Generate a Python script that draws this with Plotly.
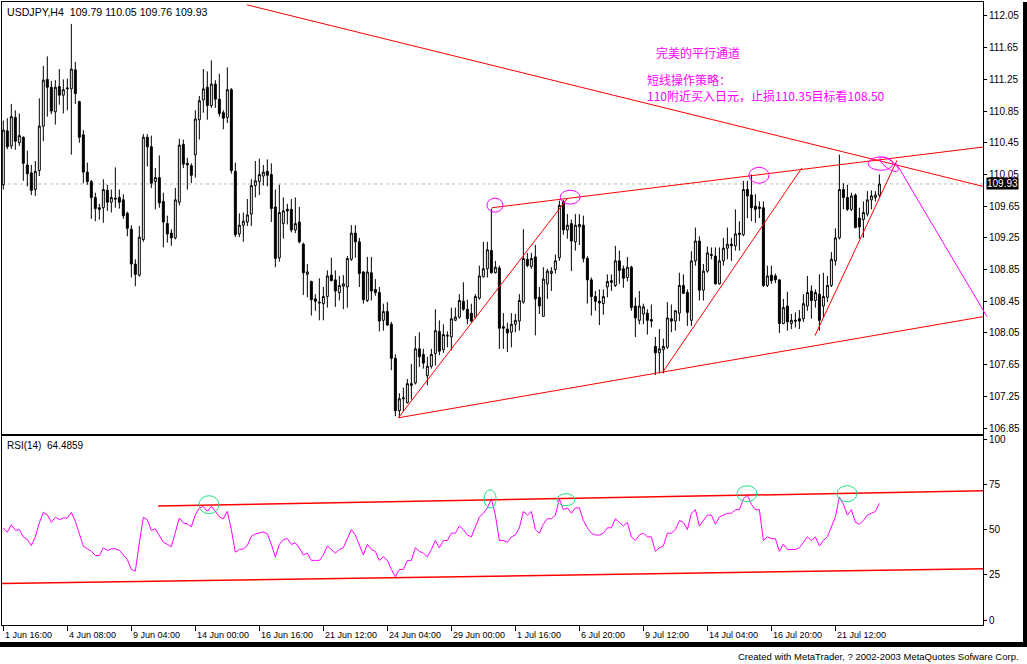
import numpy as np
import plotly.graph_objects as go

W, H = 1027, 664

# ---------------- data ----------------
opens = [109.92,110.60,110.41,110.77,110.45,110.52,110.17,110.07,109.86,110.10,
         110.66,111.25,111.15,110.84,111.16,111.05,111.13,111.13,111.37,110.97,
         110.55,110.08,109.96,109.76,109.63,109.63,109.85,109.70,109.75,109.76,
         109.73,109.56,109.36,108.92,108.78,109.23,110.52,110.40,109.96,110.01,
         109.71,109.43,109.31,109.25,109.70,110.43,110.19,110.16,110.30,110.74,
         110.99,111.15,110.92,111.19,111.00,110.83,110.77,111.12,110.09,109.30,
         109.41,109.45,109.55,109.91,109.96,110.03,110.09,110.05,109.64,109.00,
         109.43,109.61,109.61,109.35,109.45,109.17,108.79,108.70,108.48,108.44,
         108.42,108.51,108.78,108.72,108.56,108.64,108.63,108.98,109.31,109.20,
         108.82,108.46,108.81,108.60,108.56,108.21,108.32,108.16,107.73,107.07,
         107.22,107.17,107.41,107.42,107.85,107.78,107.51,107.63,107.79,108.07,
         107.84,108.01,108.00,108.21,108.25,108.45,108.35,108.30,108.25,108.49,
         108.76,108.86,109.09,108.81,108.87,108.13,108.10,108.06,108.16,108.20,
         108.44,108.98,108.89,109.01,108.50,108.26,108.67,108.80,108.85,109.00,
         109.71,109.35,109.43,109.20,109.39,109.41,108.99,108.72,108.51,108.45,
         108.42,108.63,108.71,108.65,108.96,108.86,108.75,108.88,108.39,108.21,
         108.29,108.30,108.22,107.88,107.80,107.84,107.87,108.23,108.20,108.30,
         108.65,108.56,108.21,108.96,109.21,108.59,108.83,109.04,109.02,108.67,
         108.96,109.12,109.17,109.15,109.29,109.29,109.86,109.79,109.65,109.64,
         109.63,108.65,108.78,108.77,108.72,108.17,108.39,108.17,108.21,108.23,
         108.23,108.39,108.58,108.46,108.54,108.39,108.50,108.65,108.96,109.25,
         109.86,109.76,109.61,109.79,109.50,109.48,109.55,109.73,109.76,109.79]
highs = [110.73,110.76,110.94,110.86,110.82,110.53,110.35,110.17,110.22,111.01,
         111.42,111.54,111.23,111.24,111.38,111.25,111.26,111.95,111.47,110.98,
         110.61,110.20,109.98,109.82,109.68,109.99,109.92,109.86,110.14,109.86,
         109.80,109.58,109.41,108.98,109.40,110.56,110.56,110.54,110.13,110.29,
         109.82,109.53,109.36,109.88,110.50,110.49,110.26,110.19,110.86,111.04,
         111.38,111.35,111.49,111.24,111.32,110.86,111.40,111.14,110.20,109.56,
         109.57,109.74,109.99,110.22,110.25,110.17,110.24,110.19,109.86,109.92,
         109.76,109.68,109.74,109.76,109.64,109.19,108.92,108.71,108.54,108.74,
         108.63,108.84,109.00,108.84,108.77,108.78,109.02,109.41,109.41,109.25,
         108.83,109.01,109.01,108.73,108.63,108.42,108.44,108.19,107.78,107.29,
         107.36,107.47,107.66,108.01,108.06,107.85,107.75,107.85,108.35,108.21,
         108.16,108.07,108.37,108.37,108.54,108.69,108.47,108.42,108.54,108.90,
         109.20,109.20,109.62,108.96,108.90,108.30,108.18,108.30,108.29,108.54,
         109.36,109.06,109.06,109.16,108.63,108.88,108.86,108.88,109.04,109.72,
         109.73,109.55,109.48,109.55,109.55,109.53,109.02,108.75,108.58,108.60,
         108.60,108.79,108.79,109.15,109.09,108.90,109.01,108.90,108.50,108.58,
         108.42,108.35,108.41,108.00,108.10,107.98,108.44,108.41,108.34,108.81,
         108.79,108.60,109.08,109.38,109.27,108.92,109.14,109.13,109.13,109.13,
         109.25,109.38,109.25,109.61,109.46,109.97,109.97,110.05,109.80,109.71,
         109.71,108.90,108.90,108.80,108.73,108.48,108.57,108.29,108.31,108.34,
         108.54,108.77,108.65,108.60,108.79,108.81,108.77,109.07,109.37,110.30,
         109.94,109.92,109.82,109.81,109.63,109.71,109.84,109.85,109.84,110.05]
lows = [109.86,110.37,110.37,110.36,110.41,109.97,109.90,109.79,109.78,110.03,
        110.47,110.78,110.81,110.68,110.93,110.82,110.86,110.30,110.94,110.45,
        109.94,109.92,109.49,109.46,109.48,109.44,109.59,109.57,109.63,109.62,
        109.49,109.27,108.75,108.64,108.76,109.20,110.15,109.88,109.61,109.63,
        109.13,109.19,109.15,109.23,109.66,110.13,109.86,109.94,110.01,110.49,
        110.83,110.74,110.89,110.89,110.78,110.62,110.70,110.06,109.26,109.26,
        109.20,109.40,109.40,109.76,109.79,109.91,109.90,109.45,108.88,108.95,
        109.24,109.42,109.32,109.31,109.18,108.53,108.50,108.27,108.33,108.21,
        108.21,108.37,108.70,108.38,108.46,108.35,108.37,108.96,109.00,108.63,
        108.42,108.44,108.46,108.52,108.07,108.08,108.14,107.58,107.00,106.99,
        107.06,107.16,107.21,107.40,107.62,107.60,107.39,107.60,107.64,107.77,
        107.80,107.87,107.83,108.20,108.23,108.33,108.16,108.18,108.23,108.47,
        108.75,108.75,108.80,108.80,107.85,107.85,107.81,107.87,108.06,108.08,
        108.42,108.88,108.86,108.02,108.29,108.26,108.48,108.58,108.80,108.96,
        109.29,109.24,108.83,109.09,109.16,108.94,108.42,108.27,108.33,108.15,
        108.28,108.50,108.58,108.63,108.67,108.62,108.70,108.33,108.00,108.16,
        108.16,108.03,108.12,107.52,107.54,107.54,107.85,108.06,108.08,108.20,
        108.54,108.14,108.14,108.90,108.46,108.46,108.81,108.98,108.66,108.66,
        108.90,108.98,108.96,109.09,109.09,109.27,109.50,109.46,109.44,109.50,
        108.63,108.63,108.67,108.68,108.05,108.16,108.08,108.10,108.12,108.10,
        108.19,108.33,108.23,108.37,108.08,108.25,108.44,108.63,108.90,109.23,
        109.61,109.59,109.59,109.37,109.24,109.25,109.52,109.61,109.71,109.76]
closes = [110.61,110.40,110.78,110.47,110.54,110.19,110.06,109.85,110.09,110.66,
          111.24,111.15,110.85,111.15,111.05,111.12,111.14,111.38,111.07,110.52,
          110.08,109.96,109.76,109.62,109.61,109.86,109.70,109.76,109.74,109.70,
          109.53,109.37,108.92,108.79,109.26,110.52,110.40,109.94,110.01,109.69,
          109.45,109.30,109.25,109.73,110.42,110.18,110.17,110.04,110.75,110.98,
          111.13,110.92,111.19,111.00,110.82,110.76,111.12,110.10,109.29,109.41,
          109.46,109.54,109.91,109.97,110.05,110.08,110.04,109.62,108.99,109.57,
          109.59,109.59,109.35,109.43,109.20,108.81,108.82,108.47,108.45,108.43,
          108.51,108.77,108.71,108.58,108.65,108.67,108.99,109.31,109.20,108.80,
          108.47,108.82,108.58,108.56,108.20,108.32,108.15,107.73,107.07,107.22,
          107.23,107.41,107.39,107.85,107.75,107.67,107.63,107.78,108.08,107.82,
          108.03,108.02,108.23,108.25,108.46,108.35,108.23,108.20,108.51,108.77,
          108.86,109.10,108.81,108.88,108.11,108.11,108.05,108.16,108.21,108.46,
          108.99,108.90,108.99,108.48,108.39,108.73,108.83,108.83,108.96,109.66,
          109.35,109.41,109.21,109.41,109.42,108.99,108.72,108.51,108.45,108.43,
          108.51,108.70,108.69,108.96,108.84,108.74,108.88,108.37,108.24,108.39,
          108.38,108.21,108.20,107.80,107.85,107.88,108.24,108.20,108.33,108.65,
          108.55,108.31,108.96,109.21,108.59,108.83,109.06,109.03,108.67,108.96,
          109.12,109.17,109.15,109.30,109.31,109.86,109.78,109.63,109.61,109.62,
          108.65,108.77,108.71,108.72,108.17,108.37,108.19,108.21,108.20,108.20,
          108.42,108.56,108.46,108.56,108.21,108.51,108.65,108.98,109.25,109.86,
          109.76,109.61,109.78,109.38,109.39,109.57,109.73,109.78,109.79,109.93]
rsi = [50.9,48.5,52.7,49.6,50.0,46.0,44.5,41.2,46.0,53.7,
       59.5,58.2,54.0,56.8,55.5,56.4,56.4,59.5,54.6,48.2,
       40.8,39.4,38.1,35.7,35.7,39.9,38.5,39.4,39.4,38.6,
       36.3,33.5,28.0,27.1,42.7,56.8,55.5,49.5,50.4,46.3,
       43.0,41.8,40.5,48.5,56.4,53.7,53.1,51.5,58.2,61.9,
       62.8,60.1,62.8,60.1,57.0,55.9,60.1,50.0,37.5,39.0,
       39.4,41.2,46.3,47.6,48.2,48.7,47.6,41.8,34.8,41.8,
       44.5,45.0,41.8,42.7,39.9,36.0,37.0,33.0,33.0,33.0,
       36.0,41.0,39.0,37.0,39.0,40.0,45.0,50.0,47.0,41.0,
       36.0,42.0,39.0,38.0,33.0,35.0,33.0,28.0,24.0,28.0,
       28.0,33.0,33.0,40.0,38.0,37.0,35.0,39.0,44.0,40.0,
       44.0,44.0,48.0,48.0,52.0,50.0,47.0,46.0,52.0,57.0,
       59.0,62.0,67.0,58.0,44.0,44.0,43.0,46.0,47.0,51.0,
       60.0,58.0,60.0,50.0,48.0,53.0,56.0,56.0,58.0,67.0,
       61.0,62.0,59.0,62.0,62.0,55.0,51.0,48.0,47.0,47.0,
       48.0,51.0,51.0,56.0,54.0,52.0,54.0,46.0,44.0,47.0,
       48.0,46.0,46.0,38.0,40.0,41.0,48.0,48.0,50.0,55.0,
       54.0,50.0,59.0,61.0,52.0,55.0,58.0,58.0,53.0,57.0,
       58.0,59.0,59.0,61.0,61.0,67.0,69.0,64.0,61.0,61.0,
       44.0,46.0,45.0,45.0,38.0,42.0,39.0,39.0,39.0,40.0,
       43.0,46.0,44.0,46.0,41.0,44.0,46.0,52.0,57.0,68.0,
       64.0,58.0,61.0,54.0,53.0,55.0,58.0,59.0,60.0,64.49]
bars = list(range(len(closes)))

price_ticks = [112.05, 111.65, 111.25, 110.85, 110.45, 110.05, 109.65,
               109.25, 108.85, 108.45, 108.05, 107.65, 107.25, 106.85]
rsi_ticks = [0, 25, 50, 75, 100]
date_labels = ["1 Jun 16:00", "4 Jun 08:00", "9 Jun 04:00", "14 Jun 00:00",
               "16 Jun 16:00", "21 Jun 12:00", "24 Jun 04:00", "29 Jun 00:00",
               "1 Jul 16:00", "6 Jul 20:00", "9 Jul 12:00", "14 Jul 04:00",
               "16 Jul 20:00", "21 Jul 12:00"]
date_bars = [0, 16, 32, 48, 64, 80, 96, 112, 128, 144, 160, 176, 192, 208]

last_price = 109.93
header = "USDJPY,H4  109.79 110.05 109.76 109.93"
rsi_label = "RSI(14)  64.4859"

# trend lines drawn on the chart: (bar0, price0, bar1, price1)
red_price_lines = [
    (60.9, 112.19, 244.9, 109.90),    # long falling line
    (122.1, 109.63, 244.9, 110.396),  # channel top
    (98.75, 106.98, 244.9, 108.256),  # channel bottom
    (98.75, 106.98, 140.9, 109.74),
    (164.85, 107.556, 199.6, 110.132),
    (202.9, 108.017, 223.4, 110.228),
]
target_line = (223.2, 110.19, 245.9, 108.256)
magenta_ellipses = [  # bar0, bar1, price_low, price_high
    (120.9, 124.9, 109.575, 109.751),
    (139.2, 144.2, 109.676, 109.851),
    (186.4, 191.4, 109.94, 110.14),
    (216.2, 222.4, 110.103, 110.271),
]
red_rsi_lines = [
    (38.7, 63.0, 244.9, 71.4),
    (-0.4, 20.2, 244.9, 28.4),
]
green_ellipses = [  # bar0, bar1, rsi_low, rsi_high
    (48.9, 53.9, 58.8, 68.7),
    (120.2, 123.2, 62.0, 72.0),
    (138.4, 142.9, 63.2, 69.8),
    (183.4, 188.4, 65.4, 74.2),
    (208.4, 213.4, 65.4, 74.2),
]

# ---------------- geometry helpers ----------------
def fx(px):
    return px / W

def fy(py):
    return 1 - py / H

XR = [-0.33, 244.9]
PR = [106.775, 112.226]
RR = [-2.75, 101.65]
PLOT_L, PLOT_R = 2, 983

def bar_to_paper(b):
    return fx(PLOT_L + (b - XR[0]) / (XR[1] - XR[0]) * (PLOT_R - PLOT_L))

def price_to_paper(p):
    return fy(434) + (p - PR[0]) / (PR[1] - PR[0]) * (1 - fy(434))

fig = go.Figure()
fig.add_trace(go.Candlestick(
    x=bars, open=opens, high=highs, low=lows, close=closes,
    xaxis="x", yaxis="y",
    increasing=dict(line=dict(color="black", width=1), fillcolor="white"),
    decreasing=dict(line=dict(color="black", width=1), fillcolor="black"),
    whiskerwidth=0, showlegend=False, hoverinfo="skip"))
fig.add_trace(go.Scatter(
    x=bars, y=rsi, mode="lines", xaxis="x2", yaxis="y2",
    line=dict(color="#FF00FF", width=1), showlegend=False, hoverinfo="skip"))

shapes = []
shapes.append(dict(type="line", xref="x", yref="y", x0=XR[0], x1=XR[1],
                   y0=last_price, y1=last_price, layer="below",
                   line=dict(color="#B8B8B8", width=1, dash="dot")))
for (a, b, c, d) in red_price_lines:
    shapes.append(dict(type="line", xref="x", yref="y", x0=a, y0=b, x1=c, y1=d,
                       line=dict(color="#FF0000", width=1)))
# target line pokes a little past the price axis, so place it in paper units
a, b, c, d = target_line
shapes.append(dict(type="line", xref="paper", yref="paper",
                   x0=bar_to_paper(a), y0=price_to_paper(b),
                   x1=bar_to_paper(c), y1=price_to_paper(d),
                   line=dict(color="#FF00FF", width=1)))
for (a, b, c, d) in magenta_ellipses:
    shapes.append(dict(type="circle", xref="x", yref="y", x0=a, x1=b, y0=c, y1=d,
                       line=dict(color="#FF00FF", width=1)))
# small tilted ellipse at the apex
t = np.linspace(0, 2 * np.pi, 41)
th = np.deg2rad(36)
cxp, cyp, ea, eb = 889.0, 163.0, 11.0, 4.0
pxs = cxp + ea * np.cos(t) * np.cos(th) - eb * np.sin(t) * np.sin(th)
pys = cyp + ea * np.cos(t) * np.sin(th) + eb * np.sin(t) * np.cos(th)
bx = (pxs - 3.3) / 4.0
by = 112.05 - (pys - 14) / 79.6
path = "M " + " L ".join(f"{u:.3f},{v:.4f}" for u, v in zip(bx, by)) + " Z"
shapes.append(dict(type="path", xref="x", yref="y", path=path,
                   line=dict(color="#FF00FF", width=1)))

for (a, b, c, d) in red_rsi_lines:
    shapes.append(dict(type="line", xref="x2", yref="y2", x0=a, y0=b, x1=c, y1=d,
                       line=dict(color="#FF0000", width=1.5)))
for (a, b, c, d) in green_ellipses:
    shapes.append(dict(type="circle", xref="x2", yref="y2", x0=a, x1=b, y0=c, y1=d,
                       line=dict(color="#20E080", width=1)))

# window frame: black band right and bottom
shapes.append(dict(type="rect", xref="paper", yref="paper", x0=fx(1023), x1=1,
                   y0=fy(648), y1=1, fillcolor="black", line=dict(width=0)))
shapes.append(dict(type="rect", xref="paper", yref="paper", x0=0, x1=1,
                   y0=fy(648), y1=fy(643), fillcolor="black", line=dict(width=0)))

ann = []
ann.append(dict(text=header, xref="paper", yref="paper", x=fx(5), y=fy(10),
                xanchor="left", yanchor="middle", showarrow=False,
                font=dict(family="Liberation Sans", size=10.6, color="black")))
ann.append(dict(text=rsi_label, xref="paper", yref="paper", x=fx(5), y=fy(446),
                xanchor="left", yanchor="middle", showarrow=False,
                font=dict(family="Liberation Sans", size=10, color="black")))
cjk = dict(family="Noto Sans CJK SC", size=12, color="#FF00FF")
ann.append(dict(text="完美的平行通道", xref="paper", yref="paper", x=fx(654), y=fy(51),
                xanchor="left", yanchor="middle", showarrow=False, font=cjk))
ann.append(dict(text="短线操作策略：<br>110附近买入日元，止损110.35目标看108.50",
                xref="paper", yref="paper", x=fx(645), y=fy(86),
                xanchor="left", yanchor="middle", align="left",
                showarrow=False, font=cjk))
for lb, bpos in zip(date_labels, date_bars):
    ann.append(dict(text=lb, xref="x2", yref="paper", x=bpos, y=fy(636),
                    xanchor="left", yanchor="middle", showarrow=False,
                    font=dict(family="Liberation Sans", size=9, color="black")))
ann.append(dict(text="Created with MetaTrader, ? 2002-2003 MetaQuotes Sofware Corp.",
                xref="paper", yref="paper", x=fx(1021), y=fy(657),
                xanchor="right", yanchor="middle", showarrow=False,
                font=dict(family="Liberation Sans", size=9.5, color="black")))
ann.append(dict(text=f"{last_price:.2f}", xref="paper", yref="y", x=fx(986), y=last_price,
                xanchor="left", yanchor="middle", showarrow=False, bgcolor="black",
                borderpad=0, font=dict(family="Liberation Sans", size=10, color="white")))

axis_common = dict(showgrid=False, zeroline=False, showline=True, mirror=True,
                   linecolor="black", linewidth=1)
fig.update_layout(
    width=W, height=H, margin=dict(l=0, r=0, t=0, b=0),
    paper_bgcolor="white", plot_bgcolor="white",
    xaxis=dict(domain=[fx(PLOT_L), fx(PLOT_R)], range=XR, anchor="y",
               showticklabels=False, ticks="", rangeslider=dict(visible=False),
               **axis_common),
    yaxis=dict(domain=[fy(434), 1], range=PR, anchor="x", side="right",
               tickvals=price_ticks, ticktext=[f"{v:.2f}" for v in price_ticks],
               ticks="outside", ticklen=3, tickcolor="black",
               tickfont=dict(family="Liberation Sans", size=10, color="black"),
               **axis_common),
    xaxis2=dict(domain=[fx(PLOT_L), fx(PLOT_R)], range=XR, anchor="y2",
                showticklabels=False, tickvals=date_bars, ticks="outside", ticklen=5,
                tickcolor="black", rangeslider=dict(visible=False), **axis_common),
    yaxis2=dict(domain=[fy(626), fy(436)], range=RR, anchor="x2", side="right",
                tickvals=rsi_ticks, ticks="outside", ticklen=3, tickcolor="black",
                tickfont=dict(family="Liberation Sans", size=10, color="black"),
                **axis_common),
    shapes=shapes, annotations=ann, showlegend=False,
)

fig.write_html(
    "out.html",
    config={"displayModeBar": False},
    post_script="document.body.style.margin='0';document.body.style.padding='0';"
                "document.body.style.overflow='hidden';")
